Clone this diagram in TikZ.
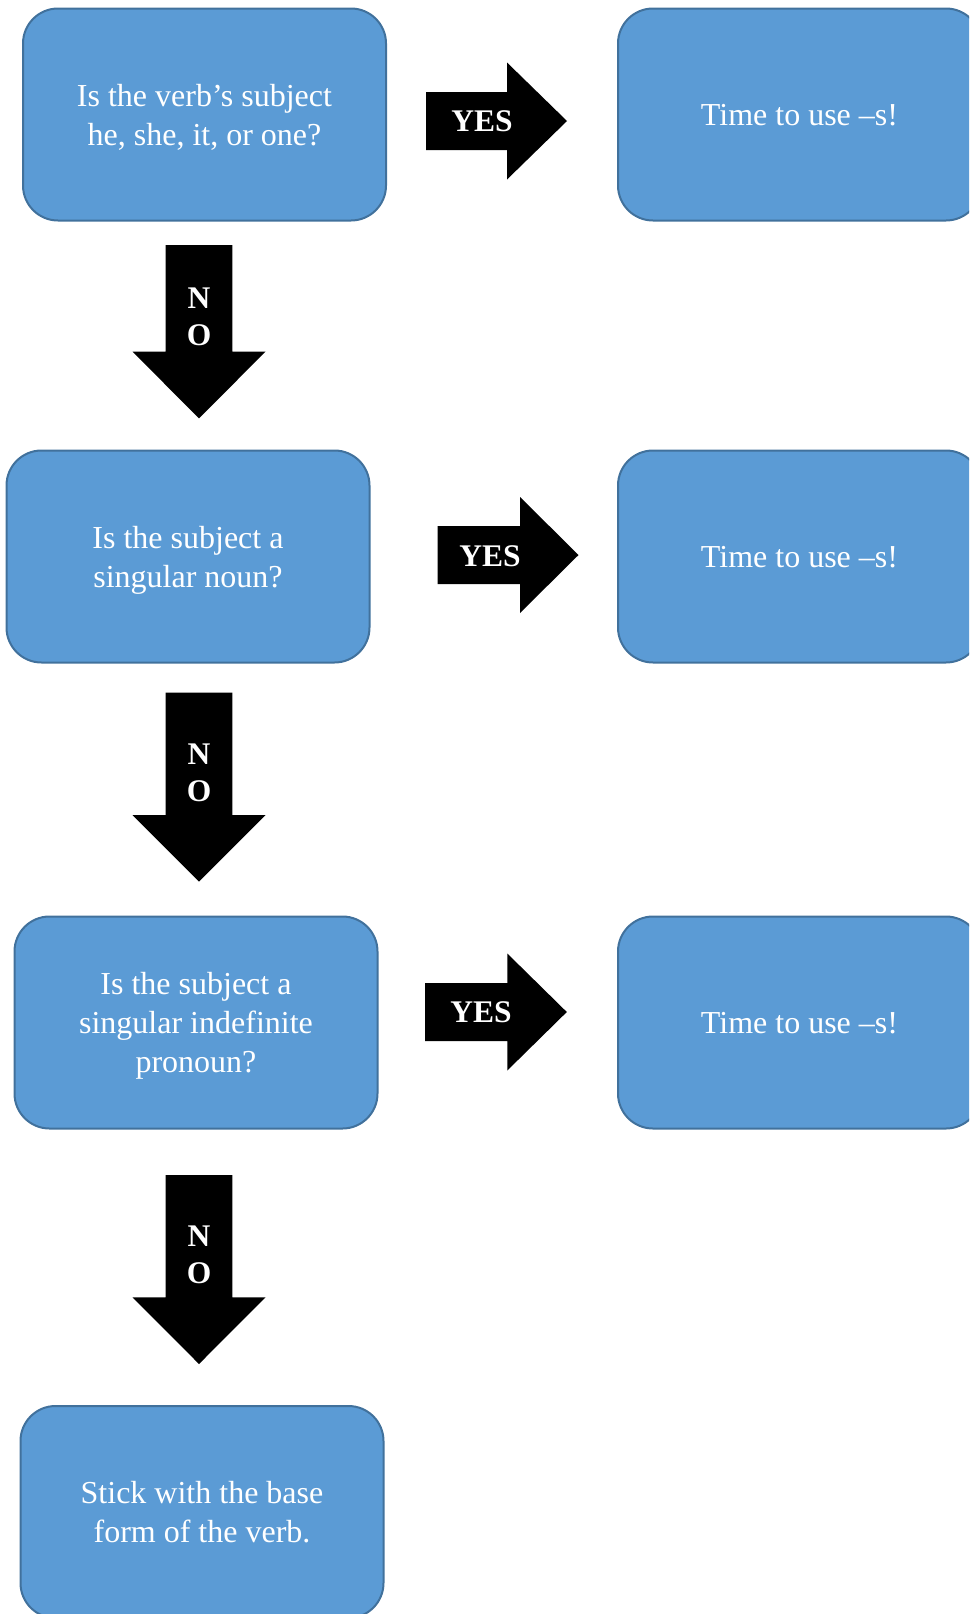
\documentclass[tikz,border=0pt]{standalone}
\usepackage{fontspec}
\setmainfont{Liberation Serif}
\definecolor{boxblue}{HTML}{5B9BD5}
\definecolor{boxedge}{HTML}{41719C}

\begin{document}
\begin{tikzpicture}[x=1pt, y=-1pt,
  qbox/.style={draw=boxedge, line width=2pt, fill=boxblue, rounded corners=35pt,
    minimum width=363pt, minimum height=212pt, inner sep=0pt, align=center,
    text=white, text depth=0pt, font=\fontsize{32}{39}\selectfont},
  tag/.style={text=white, align=center, inner sep=0pt,
    font=\fontsize{31.5}{37}\selectfont\bfseries}]
  \useasboundingbox (0,0) rectangle (969,1614);
  \clip (0,0) rectangle (969,1614);

  % questions (left column)
  \node[qbox] (q1) at (204.5,114.5) {Is the verb’s subject\\he, she, it, or one?};
  \node[qbox] (q2) at (188,556.5) {Is the subject a\\singular noun?};
  \node[qbox] (q3) at (196,1022.5) {Is the subject a\\singular indefinite\\pronoun?};
  \node[qbox] (base) at (202,1512) {Stick with the base\\form of the verb.};

  % answers (right column)
  \node[qbox] (s1) at (799.5,114.5) {Time to use --s!};
  \node[qbox] (s2) at (799.5,556.5) {Time to use --s!};
  \node[qbox] (s3) at (799.5,1022.5) {Time to use --s!};

  % YES arrows
  \coordinate (y1) at (426,121);
  \coordinate (y2) at (437.5,555);
  \coordinate (y3) at (425,1012);
  \fill (y1) ++(0,-29) -- ++(81,0) -- ++(0,-29.5) -- ++(60,58.5)
    -- ++(-60,58.5) -- ++(0,-29.5) -- ++(-81,0) -- cycle;
  \fill (y2) ++(0,-29) -- ++(82.5,0) -- ++(0,-29) -- ++(58.5,58)
    -- ++(-58.5,58) -- ++(0,-29) -- ++(-82.5,0) -- cycle;
  \fill (y3) ++(0,-29) -- ++(82.3,0) -- ++(0,-29.5) -- ++(59.5,58.5)
    -- ++(-59.5,58.5) -- ++(0,-29.5) -- ++(-82.3,0) -- cycle;
  \node[tag] (yes1) at (482,121) {YES};
  \node[tag] (yes2) at (490,556) {YES};
  \node[tag] (yes3) at (481,1012) {YES};

  % NO arrows
  \coordinate (n1) at (199,245);
  \coordinate (n2) at (199,692.7);
  \coordinate (n3) at (199,1175);
  \fill (n1) ++(-33.3,0) -- ++(0,106.7) -- ++(-33.2,0) -- ++(66.5,66.6)
    -- ++(66.5,-66.6) -- ++(-33.2,0) -- ++(0,-106.7) -- cycle;
  \fill (n2) ++(-33.3,0) -- ++(0,122.3) -- ++(-33.2,0) -- ++(66.5,66.7)
    -- ++(66.5,-66.7) -- ++(-33.2,0) -- ++(0,-122.3) -- cycle;
  \fill (n3) ++(-33.3,0) -- ++(0,122.3) -- ++(-33.2,0) -- ++(66.5,66.7)
    -- ++(66.5,-66.7) -- ++(-33.2,0) -- ++(0,-122.3) -- cycle;
  \node[tag] (no1) at (199,317) {N\\O};
  \node[tag] (no2) at (199,773) {N\\O};
  \node[tag] (no3) at (199,1254.5) {N\\O};
\end{tikzpicture}
\end{document}
